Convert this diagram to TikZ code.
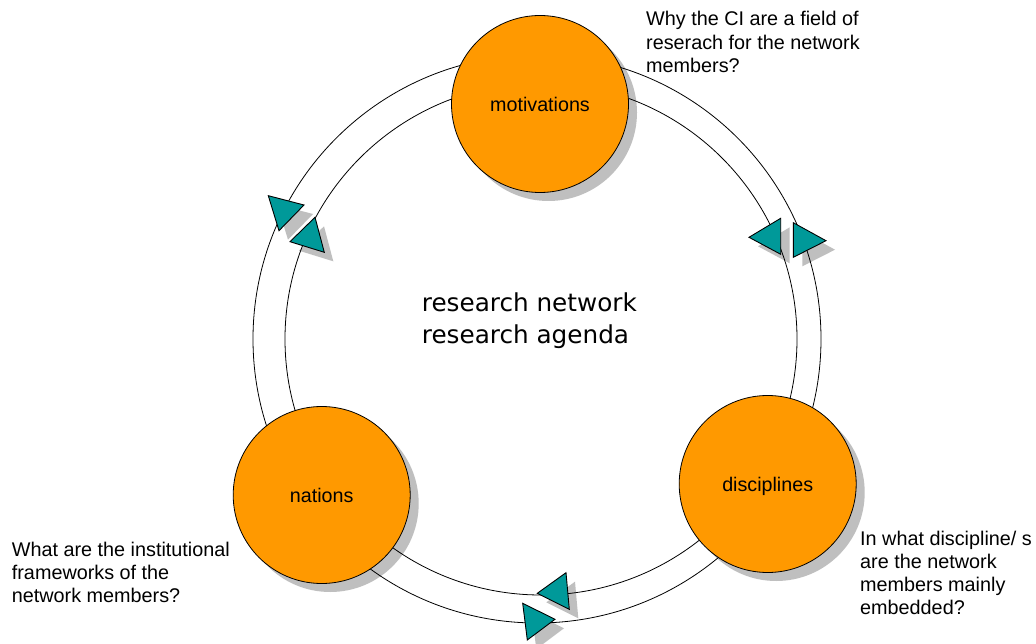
\documentclass[tikz,border=0pt]{standalone}
\usepackage{fontspec}
\setmainfont{Liberation Sans}
\newfontfamily\centfont{DejaVu Sans}
\definecolor{orng}{HTML}{FF9900}
\definecolor{tealtri}{HTML}{009999}
\definecolor{shgray}{HTML}{BFBFBF}
\begin{document}
\begin{tikzpicture}[x=1pt,y=-1pt,
  bubble/.style={circle, draw=black, line width=0.8pt, fill=orng, minimum size=177pt, inner sep=0pt, text height=14.4pt, text depth=0pt, font=\fontsize{19.7}{23}\selectfont},
  ringline/.style={draw=black, line width=0.8pt},
  tri/.style={fill=tealtri, draw=black, line width=0.9pt, line join=miter},
  shad/.style={fill=shgray},
  question/.style={align=left, anchor=base west, inner sep=0pt, font=\fontsize{19.8}{23.2}\selectfont}]

\useasboundingbox (0,0) rectangle (1036,644);
\fill[white] (0,0) rectangle (1036,644);

% circle shadows
\fill[shad] (548.5,112.5) circle (88.5pt);
\fill[shad] (776.2,492.5) circle (88.5pt);
\fill[shad] (330.2,503.5) circle (88.5pt);

% triangle shadows
\begin{scope}[shift={(9,9)}]
\fill[shad] (268.3,195.7) -- (304,205) -- (279,230.7) -- cycle;
\fill[shad] (290,241.7) -- (315,217.3) -- (324.3,252.3) -- cycle;
\fill[shad] (749,237.3) -- (780.7,218.3) -- (780.7,254.3) -- cycle;
\fill[shad] (793.3,222.7) -- (826,240.7) -- (793.3,257.3) -- cycle;
\fill[shad] (537.3,593.3) -- (566,572.7) -- (569.3,609.3) -- cycle;
\fill[shad] (522.7,603.3) -- (555,619.3) -- (527.3,640) -- cycle;
\end{scope}

% ring
\draw[ringline] (537,339) circle (284pt);
\draw[ringline] (541,339) circle (256pt);

% bubbles
\node[bubble] (mot) at (540,104) {motivations};
\node[bubble] (dis) at (767.7,484) {disciplines};
\node[bubble] (nat) at (321.7,495) {nations};

% triangles
\filldraw[tri] (268.3,195.7) -- (304,205) -- (279,230.7) -- cycle;
\filldraw[tri] (290,241.7) -- (315,217.3) -- (324.3,252.3) -- cycle;
\filldraw[tri] (749,237.3) -- (780.7,218.3) -- (780.7,254.3) -- cycle;
\filldraw[tri] (793.3,222.7) -- (826,240.7) -- (793.3,257.3) -- cycle;
\filldraw[tri] (537.3,593.3) -- (566,572.7) -- (569.3,609.3) -- cycle;
\filldraw[tri] (522.7,603.3) -- (555,619.3) -- (527.3,640) -- cycle;

% texts (anchor = baseline of last line)
\node[align=left, anchor=base west, inner sep=0pt, font=\centfont\fontsize{24.7}{31.5}\selectfont] (ctr) at (421.7,343.2) {research network\\research agenda};
\node[question] (q1) at (646,72.4) {Why the CI are a field of\\reserach for the network\\members?};
\node[question] (q2) at (860,614.6) {In what discipline/ s\\are the network\\members mainly\\embedded?};
\node[question] (q3) at (11.7,602.4) {What are the institutional\\frameworks of the\\network members?};
\end{tikzpicture}
\end{document}
